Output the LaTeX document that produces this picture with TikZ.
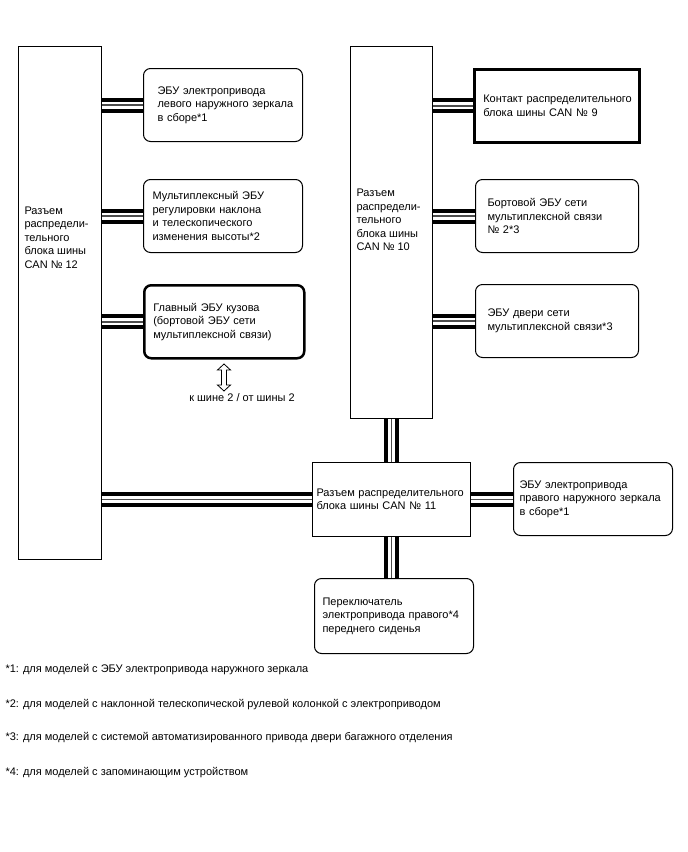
\documentclass[tikz,border=0pt]{standalone}
\usepackage{fontspec}
\setmainfont{Liberation Sans}
\usepackage{tikz}
\usetikzlibrary{backgrounds}

\begin{document}
\begin{tikzpicture}[x=1pt,y=-1pt,line width=1pt,
    txt/.style={font=\fontsize{11}{13.5}\selectfont},
    jbox/.style={draw, anchor=north west, line width=1pt, inner sep=0pt},
    ecubox/.style n args={3}{draw, anchor=north west, rounded corners=7pt, line width=1pt, txt, align=left,
      minimum width=#1, minimum height=#2, inner xsep=#3, inner ysep=0pt, text width=#1-2*#3},
    lbl/.style={txt, align=left, inner sep=0pt, anchor=west},
    canbus/.style={draw=white, line width=7pt, preaction={draw=black, line width=15pt}, postaction={draw=black!70, line width=1.5pt}}]
  \useasboundingbox (0,0) rectangle (688,852);

  \node[jbox, minimum width=83, minimum height=513] (can12) at (18,46) {};
  \node[lbl] (can12txt) at (24,237.5) {Разъем\\распредели-\\тельного\\блока шины\\CAN № 12};
  \node[jbox, minimum width=82, minimum height=372] (can10) at (350,46) {};
  \node[lbl] (can10txt) at (356,220) {Разъем\\распредели-\\тельного\\блока шины\\CAN № 10};

  \node[ecubox={159pt}{73pt}{14pt}] (mirl) at (143,68) {ЭБУ электропривода\\левого~наружного~зеркала\\в сборе*1};
  \node[ecubox={159pt}{73pt}{9pt}] (tilt) at (143,179) {Мультиплексный ЭБУ\\регулировки наклона\\и телескопического\\изменения высоты*2};
  \node[ecubox={160pt}{73pt}{9pt}, line width=2.5pt] (mainecu) at (143,284) {Главный ЭБУ кузова\\(бортовой ЭБУ сети\\мультиплексной~связи)};

  \node[ecubox={165pt}{73pt}{9pt}, rounded corners=0pt, line width=2.5pt] (can9) at (473,68) {Контакт~распределительного\\блока шины CAN № 9};
  \node[ecubox={163pt}{73pt}{12pt}] (ecu2) at (475,179) {Бортовой ЭБУ сети\\мультиплексной~связи\\№ 2*3};
  \node[ecubox={163pt}{73pt}{12pt}] (doorecu) at (475,284) {ЭБУ двери сети\\мультиплексной~связи*3};

  \node[ecubox={158pt}{74pt}{4pt}, rounded corners=0pt] (can11) at (312,462) {Разъем~распределительного\\блока шины CAN № 11};
  \node[ecubox={159pt}{73pt}{6pt}] (mirr) at (513,462) {ЭБУ электропривода\\правого~наружного~зеркала\\в сборе*1};
  \node[ecubox={159pt}{75pt}{8pt}] (seat) at (314,578) {Переключатель\\электропривода~правого*4\\переднего сиденья};

  \begin{scope}[on background layer]
    \draw[canbus] (can12.east |- mirl.west) -- (mirl.west);
    \draw[canbus] (can12.east |- tilt.west) -- (tilt.west);
    \draw[canbus] (can12.east |- mainecu.west) -- (mainecu.west);
    \draw[canbus] (can10.east |- can9.west) -- (can9.west);
    \draw[canbus] (can10.east |- ecu2.west) -- (ecu2.west);
    \draw[canbus] (can10.east |- doorecu.west) -- (doorecu.west);
    \draw[canbus] (can12.east |- can11.west) -- (can11.west);
    \draw[canbus] (can11.east) -- (mirr.west |- can11.east);
    \draw[canbus] (can10.south) -- (can11.north -| can10.south);
    \draw[canbus] (can11.south -| can10.south) -- (seat.north -| can10.south);
  \end{scope}

  \draw[line width=0.8pt] (224,364) -- (230.5,370) -- (226.5,370) -- (226.5,385) -- (230.5,385) -- (224,391)
    -- (217.5,385) -- (221.5,385) -- (221.5,370) -- (217.5,370) -- cycle;
  \node[txt, inner sep=0pt] (bustxt) at (242,398) {к шине 2 / от шины 2};

  \node[lbl] (fn1) at (5,670) {*1: для моделей с ЭБУ электропривода наружного зеркала};
  \node[lbl] (fn2) at (5,705) {*2: для моделей с наклонной телескопической рулевой колонкой с электроприводом};
  \node[lbl] (fn3) at (5,738) {*3: для моделей с системой автоматизированного привода двери багажного отделения};
  \node[lbl] (fn4) at (5,773) {*4: для моделей с запоминающим устройством};
\end{tikzpicture}
\end{document}
